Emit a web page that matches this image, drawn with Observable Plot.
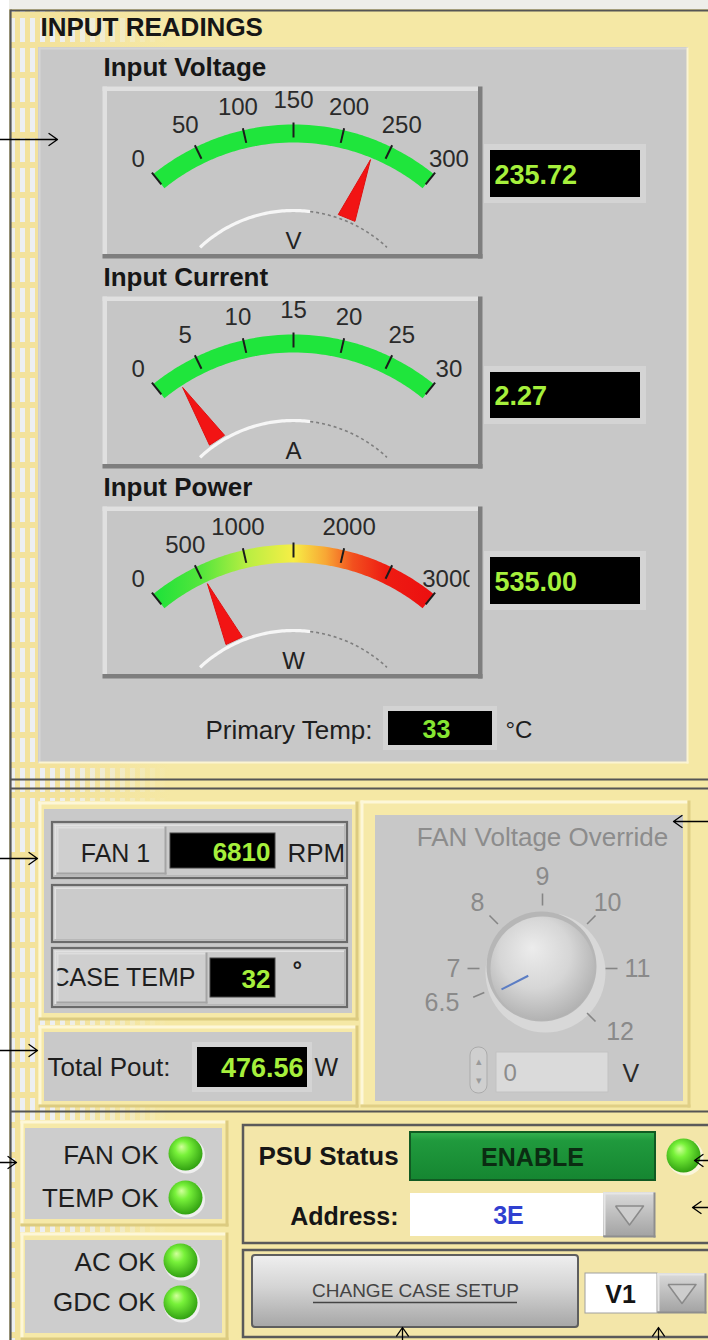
<!DOCTYPE html>
<html>
<head>
<meta charset="utf-8">
<script src="https://cdn.jsdelivr.net/npm/d3@7"></script>
<script src="https://cdn.jsdelivr.net/npm/@observablehq/plot@0.6"></script>
<style>
html,body{margin:0;padding:0;background:#fff;}
#chart svg{display:block;}
</style>
</head>
<body>
<div id="chart"></div>
<script>
// ---------------- DATA ----------------
const sectionTitle = ["INPUT READINGS"];
const gaugeTitles = ["Input Voltage", "Input Current", "Input Power"];
const gaugeUnits = ["V", "A", "W"];
const gaugeMax = [300, 30, 3000];
const voltageTicks = [0, 50, 100, 150, 200, 250, 300];
const currentTicks = [0, 5, 10, 15, 20, 25, 30];
const powerTicks = [0, 500, 1000, 1500, 2000, 2500, 3000];
const voltageTickLabels = ["0", "50", "100", "150", "200", "250", "300"];
const currentTickLabels = ["0", "5", "10", "15", "20", "25", "30"];
const powerTickLabels = ["0", "500", "1000", "", "2000", "", "3000"];
const gaugeValues = [235.72, 2.27, 535.00];
const gaugeReadouts = ["235.72", "2.27", "535.00"];
const primaryTempLabel = ["Primary Temp:"];
const primaryTemp = ["33"];
const primaryTempUnit = ["°C"];
const fanRowLabels = ["FAN 1", "", "CASE TEMP"];
const fanRowReadouts = ["6810", "", "32"];
const fanRowUnits = ["RPM", "", "°"];
const poutLabel = ["Total Pout:"];
const totalPout = ["476.56"];
const poutUnit = ["W"];
const knobTitle = ["FAN Voltage Override"];
const knobTicks = [6.5, 7, 8, 9, 10, 11, 12];
const knobTickLabels = ["6.5", "7", "8", "9", "10", "11", "12"];
const knobValue = 6.4;
const fanVoltage = ["0"];
const fanVoltageUnit = ["V"];
const statusLabels = ["FAN OK", "TEMP OK", "AC OK", "GDC OK"];
const psuLabel = ["PSU Status"];
const psuStatus = ["ENABLE"];
const addressLabel = ["Address:"];
const addressValue = ["3E"];
const caseButton = ["CHANGE CASE SETUP"];
const caseVersion = ["V1"];

// ---------------- LAYOUT ----------------
const W = 708, H = 1340;
const FONT = "'Liberation Sans', Arial, Helvetica, sans-serif";
const YEL = "#f5e8a5", GREEN_TXT = "#a6f03c";
const gaugeTicks = [voltageTicks, currentTicks, powerTicks];
const gaugeTickLabels = [voltageTickLabels, currentTickLabels, powerTickLabels];
const gaugeBoxes = [
  {x1: 102, x2: 482, y1: 86, y2: 258},
  {x1: 102, x2: 482, y1: 296, y2: 468},
  {x1: 102, x2: 482, y1: 506, y2: 678}
];
const readoutBoxes = [
  {x1: 490, x2: 640, y1: 150, y2: 197},
  {x1: 490, x2: 640, y1: 372, y2: 418},
  {x1: 490, x2: 640, y1: 557, y2: 604}
];
const statusTextX = [158, 158, 155, 155], statusTextY = [1155, 1198, 1262, 1302];
const ledX = [185, 185, 180, 180], ledY = [1153, 1197, 1260, 1302];
const annotationArrows = [
  {x1: -30, y1: 139, x2: 57, y2: 139},
  {x1: -30, y1: 858, x2: 37, y2: 858},
  {x1: -30, y1: 1050, x2: 37, y2: 1050},
  {x1: -30, y1: 1162, x2: 16, y2: 1162},
  {x1: 740, y1: 821, x2: 673, y2: 821},
  {x1: 740, y1: 1160, x2: 694, y2: 1160},
  {x1: 740, y1: 1207, x2: 692, y2: 1207},
  {x1: 402, y1: 1380, x2: 402, y2: 1327},
  {x1: 658, y1: 1380, x2: 658, y2: 1327}
];

// ---------------- HELPERS ----------------
const rad = d => d * Math.PI / 180;
const polar = (cx, cy, deg, r) => [cx + r * Math.sin(rad(deg)), cy - r * Math.cos(rad(deg))];
const box = (b, o = {}) => Plot.rect([b], {x1: "x1", x2: "x2", y1: "y1", y2: "y2", ...o});
function bevel(b, light, dark, w) {
  const h = w / 2;
  return Plot.link([
    {x1: b.x1, y1: b.y1 + h, x2: b.x2 - w, y2: b.y1 + h, c: light},
    {x1: b.x1 + h, y1: b.y1, x2: b.x1 + h, y2: b.y2 - w, c: light},
    {x1: b.x1, y1: b.y2 - h, x2: b.x2, y2: b.y2 - h, c: dark},
    {x1: b.x2 - h, y1: b.y1, x2: b.x2 - h, y2: b.y2, c: dark}
  ], {x1: "x1", y1: "y1", x2: "x2", y2: "y2", stroke: "c", strokeWidth: w, strokeLinecap: "butt"});
}
const text = (data, o) => Plot.text(data, {text: d => d, fontFamily: FONT, fontSize: 24, fill: "#1e1e1e", ...o});
const pathLine = (pts, o) => Plot.line(pts, {x: p => p[0], y: p => p[1], strokeLinecap: "butt", ...o});
const arcPts = (cx, cy, d0, d1, r) => d3.range(0, 61).map(k => polar(cx, cy, d0 + (d1 - d0) * k / 60, r));
const ddTriangle = b => {
  const mx = (b.x1 + b.x2) / 2, my = (b.y1 + b.y2) / 2;
  return [[mx - 14, my - 9], [mx + 14, my - 9], [mx, my + 10], [mx - 14, my - 9]];
};

const marks = [];

// ---------------- BACKGROUND ----------------
marks.push(box({x1: 0, x2: W, y1: 0, y2: H}, {fill: YEL}));
marks.push(box({x1: 11, x2: 170, y1: 11, y2: H}, {fill: "url(#plaid)"}));
marks.push(box({x1: 55, x2: 170, y1: 11, y2: H}, {fill: "url(#fadeR)"}));
marks.push(box({x1: 0, x2: 9, y1: 0, y2: H}, {fill: "#ffffff"}));
marks.push(box({x1: 9, x2: W, y1: 0, y2: 9}, {fill: "#eeeeea"}));

// ---------------- SECTION 1 : INPUT READINGS ----------------
const panel1 = {x1: 38, x2: 688, y1: 47, y2: 763};
marks.push(box(panel1, {fill: "#c8c8c8"}), bevel(panel1, "#d5d5d5", "#fbf4d2", 2));
marks.push(text(sectionTitle, {x: 40, y: 27, textAnchor: "start", fontSize: 26, fontWeight: "bold", fill: "#161616"}));

gaugeTitles.forEach((title, i) => {
  const g = gaugeBoxes[i];
  const cx = 293, cy = g.y1 + 261;
  const ang = d3.scaleLinear().domain([0, gaugeMax[i]]).range([-39, 39]);
  const P = (v, r) => polar(cx, cy, ang(v), r);

  marks.push(text([title], {x: 103, y: g.y1 - 19, textAnchor: "start", fontSize: 26, fontWeight: "bold", fill: "#161616"}));
  marks.push(box(g, {fill: "#c6c6c6"}), bevel(g, "#e0e0e0", "#7e7e7e", 4.5));

  marks.push(pathLine(arcPts(cx, cy, -39, 39, 214), {stroke: i === 2 ? "url(#powerGrad)" : "#1fe53c", strokeWidth: 18}));
  marks.push(Plot.link(gaugeTicks[i], {
    x1: v => P(v, 210)[0], y1: v => P(v, 210)[1], x2: v => P(v, 225)[0], y2: v => P(v, 225)[1],
    stroke: "#1c1c1c", strokeWidth: 2
  }));
  marks.push(text(gaugeTicks[i], {
    x: v => P(v, 247)[0], y: v => P(v, 247)[1] + (Math.abs(ang(v)) > 35 ? 4 : 0), text: (v, j) => gaugeTickLabels[i][j],
    fontSize: 24, fill: "#2a2a2a"
  }));
  marks.push(pathLine(arcPts(cx, cy, -43, 7, 137), {stroke: "#f6f6f6", strokeWidth: 3.2}));
  marks.push(pathLine(arcPts(cx, cy, 7, 43, 137), {stroke: "#7e7e7e", strokeWidth: 1.6, strokeDasharray: "3,3"}));
  const a = ang(gaugeValues[i]);
  const tip = P(gaugeValues[i], 203), base = P(gaugeValues[i], 140);
  const px = Math.cos(rad(a)), py = Math.sin(rad(a));
  marks.push(pathLine([tip, [base[0] + 9 * px, base[1] + 9 * py], [base[0] - 9 * px, base[1] - 9 * py], tip],
    {fill: "#f21414", stroke: "#e01010", strokeWidth: 1}));
  marks.push(text([gaugeUnits[i]], {x: cx, y: g.y1 + 155, fontSize: 24, fill: "#222"}));

  const r = readoutBoxes[i];
  marks.push(box({x1: r.x1 - 6, x2: r.x2 + 6, y1: r.y1 - 6, y2: r.y2 + 6}, {fill: "#d4d4d4"}));
  marks.push(box(r, {fill: "#000"}));
  marks.push(text([gaugeReadouts[i]], {x: r.x1 + 4, y: (r.y1 + r.y2) / 2 + 1, textAnchor: "start", fontSize: 27, fontWeight: "bold", fill: GREEN_TXT}));
});

marks.push(text(primaryTempLabel, {x: 372, y: 730, textAnchor: "end", fontSize: 26}));
marks.push(box({x1: 383, x2: 497, y1: 706, y2: 750}, {fill: "#d3d3d3"}));
marks.push(box({x1: 388, x2: 492, y1: 711, y2: 745}, {fill: "#000"}));
marks.push(text(primaryTemp, {x: 436, y: 729, fontSize: 25, fontWeight: "bold", fill: "#86e632"}));
marks.push(text(primaryTempUnit, {x: 505, y: 730, textAnchor: "start", fontSize: 24}));

// ---------------- SECTION 2 : FAN ----------------
const leftGroup = {x1: 38, x2: 358, y1: 801, y2: 1020};
marks.push(box(leftGroup, {fill: "#f6e9a8"}), bevel(leftGroup, "#fdf7d8", "#dccb80", 3));
marks.push(box({x1: 44, x2: 352, y1: 809, y2: 1013}, {fill: "#c9c9c9"}));
const rowBoxes = [
  {x1: 52, x2: 347, y1: 822, y2: 878},
  {x1: 52, x2: 347, y1: 885, y2: 942},
  {x1: 52, x2: 347, y1: 948, y2: 1007}
];
rowBoxes.forEach(b => {
  marks.push(box(b, {fill: "#cbcbcb", stroke: "#6a6a6a", strokeWidth: 2.2}));
  marks.push(bevel({x1: b.x1 + 2, x2: b.x2 - 2, y1: b.y1 + 2, y2: b.y2 - 2}, "#e2e2e2", "#b8b8b8", 1.5));
});
const rowLabelBoxes = [{x1: 56, x2: 166, y1: 826, y2: 874}, {x1: 56, x2: 207, y1: 952, y2: 1003}];
rowLabelBoxes.forEach(b => marks.push(box(b, {fill: "#cfcfcf"}), bevel(b, "#dedede", "#a4a4a4", 2)));
const rowBlack = [{x1: 170, x2: 275, y1: 833, y2: 868}, {x1: 210, x2: 275, y1: 958, y2: 997}];
rowBlack.forEach(b => marks.push(box(b, {fill: "#000", stroke: "#444", strokeWidth: 1})));
marks.push(text([fanRowLabels[0]], {x: 115, y: 853, fontSize: 25}));
marks.push(text([fanRowLabels[2]], {x: 51, y: 977, textAnchor: "start", fontSize: 25}));
marks.push(text([fanRowReadouts[0]], {x: 270, y: 852, textAnchor: "end", fontSize: 26, fontWeight: "bold", fill: GREEN_TXT}));
marks.push(text([fanRowReadouts[2]], {x: 270, y: 979, textAnchor: "end", fontSize: 26, fontWeight: "bold", fill: GREEN_TXT}));
marks.push(text([fanRowUnits[0]], {x: 287, y: 853, textAnchor: "start", fontSize: 26}));
marks.push(text([fanRowUnits[2]], {x: 292, y: 970, textAnchor: "start", fontSize: 24, fontWeight: "bold"}));

const poutGroup = {x1: 38, x2: 358, y1: 1025, y2: 1107};
marks.push(box(poutGroup, {fill: "#f6e9a8"}), bevel(poutGroup, "#fdf7d8", "#dccb80", 3));
marks.push(box({x1: 44, x2: 352, y1: 1032, y2: 1101}, {fill: "#c9c9c9"}));
marks.push(text(poutLabel, {x: 47, y: 1067, textAnchor: "start", fontSize: 26}));
marks.push(box({x1: 192, x2: 312, y1: 1042, y2: 1092}, {fill: "#d4d4d4"}));
marks.push(box({x1: 197, x2: 307, y1: 1047, y2: 1087}, {fill: "#000"}));
marks.push(text(totalPout, {x: 303, y: 1068, textAnchor: "end", fontSize: 27, fontWeight: "bold", fill: GREEN_TXT}));
marks.push(text(poutUnit, {x: 314, y: 1067, textAnchor: "start", fontSize: 25}));

const fanPanel = {x1: 360, x2: 690, y1: 800, y2: 1107};
marks.push(box(fanPanel, {fill: "#f6e9a8"}), bevel(fanPanel, "#fdf7d8", "#e0cf86", 3));
marks.push(box({x1: 375, x2: 683, y1: 815, y2: 1101}, {fill: "#c8c8c8"}));
marks.push(text(knobTitle, {x: 542, y: 837, fontSize: 26, fill: "#8c8c8c"}));
const kcx = 542, kcy = 968;
const kAng = d3.scaleLinear().domain([9, 10]).range([0, 45]);
const kR = v => { const a = Math.abs(kAng(v)); return a < 60 ? 92 : a < 100 ? 82 : 90; };
const kPos = v => polar(kcx, kcy, kAng(v), kR(v));
marks.push(Plot.dot([0], {x: kcx + 3, y: kcy + 4, r: 60, fill: "#d8d8d8"}));
marks.push(Plot.dot([0], {x: kcx - 1, y: kcy - 2, r: 55, fill: "#b6b6b6"}));
marks.push(Plot.dot([0], {x: kcx, y: kcy, r: 52, fill: "url(#knob)"}));
marks.push(Plot.link(knobTicks, {
  x1: v => polar(kcx, kcy, kAng(v), 63)[0], y1: v => polar(kcx, kcy, kAng(v), 63)[1],
  x2: v => polar(kcx, kcy, kAng(v), 75)[0], y2: v => polar(kcx, kcy, kAng(v), 75)[1],
  stroke: "#858585", strokeWidth: 1.6
}));
const kLabel = v => knobTickLabels[knobTicks.indexOf(v)];
marks.push(text(knobTicks.filter(v => kAng(v) <= -60), {x: v => kPos(v)[0], y: v => kPos(v)[1], text: kLabel, textAnchor: "end", fontSize: 25, fill: "#8a8a8a"}));
marks.push(text(knobTicks.filter(v => Math.abs(kAng(v)) < 60), {x: v => kPos(v)[0], y: v => kPos(v)[1], text: kLabel, fontSize: 25, fill: "#8a8a8a"}));
marks.push(text(knobTicks.filter(v => kAng(v) >= 60), {x: v => kPos(v)[0], y: v => kPos(v)[1], text: kLabel, textAnchor: "start", fontSize: 25, fill: "#8a8a8a"}));
marks.push(pathLine([polar(kcx, kcy, kAng(knobValue), 16), polar(kcx, kcy, kAng(knobValue), 46)], {stroke: "#5b7dc4", strokeWidth: 2}));
marks.push(box({x1: 470, x2: 487, y1: 1047, y2: 1093}, {fill: "#cfcfcf", stroke: "#ababab", rx: 8}));
marks.push(text(["▴"], {x: 478.5, y: 1061, fontSize: 11, fill: "#9a9a9a"}));
marks.push(text(["▾"], {x: 478.5, y: 1080, fontSize: 11, fill: "#9a9a9a"}));
marks.push(box({x1: 496, x2: 608, y1: 1052, y2: 1092}, {fill: "#dadada", stroke: "#c2c2c2"}));
marks.push(text(fanVoltage, {x: 503, y: 1073, textAnchor: "start", fontSize: 24, fill: "#8c8c8c"}));
marks.push(text(fanVoltageUnit, {x: 622, y: 1073, textAnchor: "start", fontSize: 25, fill: "#2a2a2a"}));

// ---------------- SECTION 3 : STATUS ----------------
const statusBoxes = [{x1: 20, x2: 228, y1: 1120, y2: 1226}, {x1: 20, x2: 228, y1: 1232, y2: 1340}];
statusBoxes.forEach(b => {
  marks.push(box(b, {fill: "#f6e9a8"}), bevel(b, "#fdf7d8", "#dccb80", 3));
  marks.push(box({x1: b.x1 + 5, x2: b.x2 - 6, y1: b.y1 + 8, y2: b.y2 - 7}, {fill: "#cdcdcd"}));
});
marks.push(text(statusLabels, {x: (d, i) => statusTextX[i], y: (d, i) => statusTextY[i], textAnchor: "end", fontSize: 26}));
marks.push(Plot.dot(statusLabels, {x: (d, i) => ledX[i] + 1.5, y: (d, i) => ledY[i] + 2, r: 18, fill: "#efefef"}));
marks.push(Plot.dot(statusLabels, {x: (d, i) => ledX[i], y: (d, i) => ledY[i], r: 17, fill: "url(#led)"}));

marks.push(box({x1: 243, x2: 722, y1: 1125, y2: 1243}, {fill: "#f3e6a9", stroke: "#5a5a5a", strokeWidth: 2.5}));
marks.push(text(psuLabel, {x: 258, y: 1156, textAnchor: "start", fontSize: 26, fontWeight: "bold", fill: "#161616"}));
const enableBox = {x1: 410, x2: 655, y1: 1132, y2: 1180};
marks.push(box(enableBox, {fill: "url(#enable)", stroke: "#115a22", strokeWidth: 2}));
marks.push(text(psuStatus, {x: 532, y: 1157, fontSize: 25, fontWeight: "bold", fill: "#0b2c12"}));
marks.push(Plot.dot([0], {x: 685, y: 1157, r: 18, fill: "#fbf6dc"}), Plot.dot([0], {x: 683, y: 1155, r: 17, fill: "url(#led)"}));
marks.push(text(addressLabel, {x: 398, y: 1216, textAnchor: "end", fontSize: 25, fontWeight: "bold", fill: "#161616"}));
marks.push(box({x1: 410, x2: 603, y1: 1193, y2: 1236}, {fill: "#ffffff"}));
const addrBtn = {x1: 603, x2: 655, y1: 1192, y2: 1237};
marks.push(box(addrBtn, {fill: "url(#ddb)"}), bevel(addrBtn, "#e6e6e6", "#8e8e8e", 2));
marks.push(pathLine(ddTriangle(addrBtn), {stroke: "#8a8a8a", fill: "#cdcdcd", strokeWidth: 1.5}));
marks.push(text(addressValue, {x: 508, y: 1215, fontSize: 25, fontWeight: "bold", fill: "#3040d0"}));

marks.push(box({x1: 243, x2: 722, y1: 1250, y2: 1337}, {fill: "#f3e6a9", stroke: "#5a5a5a", strokeWidth: 2.5}));
const caseBtn = {x1: 252, x2: 578, y1: 1255, y2: 1327};
marks.push(box(caseBtn, {fill: "url(#btn)", stroke: "#5e5e5e", strokeWidth: 2, rx: 3}));
marks.push(text(caseButton, {x: 415, y: 1290, fontSize: 19, fill: "#444"}));
marks.push(Plot.ruleY([1302], {x1: 313, x2: 517, stroke: "#444", strokeWidth: 1.6}));
marks.push(box({x1: 585, x2: 657, y1: 1273, y2: 1313}, {fill: "#ffffff", stroke: "#a0a0a0"}));
const verBtn = {x1: 657, x2: 706, y1: 1273, y2: 1313};
marks.push(box(verBtn, {fill: "url(#ddb)"}), bevel(verBtn, "#e6e6e6", "#8e8e8e", 2));
marks.push(pathLine(ddTriangle(verBtn), {stroke: "#8a8a8a", fill: "#cdcdcd", strokeWidth: 1.5}));
marks.push(text(caseVersion, {x: 620, y: 1294, fontSize: 25, fontWeight: "bold", fill: "#141414"}));

// ---------------- FRAME LINES ----------------
const frameLines = [
  {x1: 10, y1: 9, x2: 10, y2: H},
  {x1: 10, y1: 10, x2: W, y2: 10},
  {x1: 10, y1: 779, x2: W, y2: 779},
  {x1: 10, y1: 788, x2: W, y2: 788},
  {x1: 10, y1: 1111, x2: W, y2: 1111}
];
marks.push(Plot.link(frameLines, {x1: "x1", y1: "y1", x2: "x2", y2: "y2", stroke: "#555", strokeWidth: 2.2}));

marks.push(Plot.arrow(annotationArrows, {x1: "x1", y1: "y1", x2: "x2", y2: "y2", stroke: "#000", strokeWidth: 1.3, headLength: 12, headAngle: 70}));

// ---------------- PLOT ----------------
const svg = Plot.plot({
  width: W, height: H, margin: 0,
  x: {domain: [0, W], range: [0, W], axis: null},
  y: {domain: [0, H], range: [0, H], axis: null},
  color: {type: "identity"},
  style: {fontFamily: FONT, background: "#ffffff", overflow: "hidden"},
  marks
});

const s = d3.select(svg);
const defs = s.insert("defs", ":first-child");
function grad(kind, id, stops, attrs) {
  const g = defs.append(kind).attr("id", id);
  Object.entries(attrs).forEach(([k, v]) => g.attr(k, v));
  stops.forEach(([o, c, op]) => g.append("stop").attr("offset", o).attr("stop-color", c).attr("stop-opacity", op ?? 1));
}
grad("linearGradient", "powerGrad", [[0, "#22e23a"], [0.16, "#55e63c"], [0.33, "#b9ee42"], [0.5, "#f7ee46"], [0.62, "#f8a634"], [0.72, "#f2501e"], [0.84, "#ee1c12"], [1, "#ec1010"]],
  {gradientUnits: "userSpaceOnUse", x1: 158, x2: 428, y1: 0, y2: 0});
grad("linearGradient", "fadeR", [[0, YEL, 0], [1, YEL, 1]], {x1: 0, x2: 1, y1: 0, y2: 0});
grad("linearGradient", "btn", [[0, "#efefef"], [0.45, "#d4d4d4"], [1, "#a6a6a6"]], {x1: 0, x2: 0, y1: 0, y2: 1});
grad("linearGradient", "ddb", [[0, "#dadada"], [1, "#a2a2a2"]], {x1: 0, x2: 0, y1: 0, y2: 1});
grad("linearGradient", "enable", [[0, "#36b150"], [0.18, "#209a3d"], [1, "#158631"]], {x1: 0, x2: 0, y1: 0, y2: 1});
grad("radialGradient", "led", [[0, "#d2ff9c"], [0.35, "#78f23a"], [1, "#2f9e10"]], {cx: 0.45, cy: 0.42, r: 0.6, fx: 0.38, fy: 0.3});
grad("radialGradient", "knob", [[0, "#ececec"], [0.55, "#d6d6d6"], [1, "#b0b0b0"]], {cx: 0.45, cy: 0.4, r: 0.62, fx: 0.4, fy: 0.3});
const pat = defs.append("pattern").attr("id", "plaid").attr("patternUnits", "userSpaceOnUse").attr("width", 10).attr("height", 30);
pat.append("rect").attr("width", 10).attr("height", 30).attr("fill", "#edeff2");
pat.append("rect").attr("x", 5).attr("width", 5).attr("height", 30).attr("fill", "#f3e29c");
pat.append("rect").attr("y", 12).attr("width", 10).attr("height", 6).attr("fill", "#f3e29c");

// clip texts that overflow their control in the original
function clipText(content, id, r) {
  defs.append("clipPath").attr("id", id).append("rect")
    .attr("x", r.x1).attr("y", r.y1).attr("width", r.x2 - r.x1).attr("height", r.y2 - r.y1);
  s.selectAll("text").filter(function() { return this.textContent === content; }).each(function() {
    const g = document.createElementNS("http://www.w3.org/2000/svg", "g");
    g.setAttribute("clip-path", `url(#${id})`);
    this.parentNode.insertBefore(g, this);
    g.appendChild(this);
  });
}
clipText("3000", "clip3000", {x1: 104, y1: 500, x2: 469, y2: 680});
clipText("CASE TEMP", "clipCase", {x1: 57, y1: 950, x2: 207, y2: 1005});
clipText("RPM", "clipRpm", {x1: 280, y1: 824, x2: 345, y2: 876});

document.getElementById("chart").appendChild(svg);
</script>
</body>
</html>
